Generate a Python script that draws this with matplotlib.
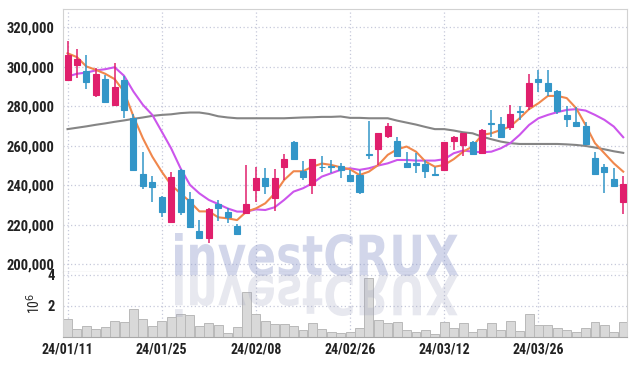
import numpy as np
import matplotlib
matplotlib.use('Agg')
import matplotlib.pyplot as plt
from matplotlib.textpath import TextPath
from matplotlib.patches import PathPatch
from matplotlib.font_manager import FontProperties
from matplotlib.transforms import Affine2D
from matplotlib.ticker import FuncFormatter

# Trading days shown on the chart
dates = ['24/01/11', '24/01/12', '24/01/15', '24/01/16', '24/01/17', '24/01/18', '24/01/19',
         '24/01/22', '24/01/23', '24/01/24', '24/01/25', '24/01/26', '24/01/29', '24/01/30',
         '24/01/31', '24/02/01', '24/02/02', '24/02/05', '24/02/06', '24/02/07', '24/02/08',
         '24/02/13', '24/02/14', '24/02/15', '24/02/16', '24/02/19', '24/02/20', '24/02/21',
         '24/02/22', '24/02/23', '24/02/26', '24/02/27', '24/02/28', '24/02/29', '24/03/04',
         '24/03/05', '24/03/06', '24/03/07', '24/03/08', '24/03/11', '24/03/12', '24/03/13',
         '24/03/14', '24/03/15', '24/03/18', '24/03/19', '24/03/20', '24/03/21', '24/03/22',
         '24/03/25', '24/03/26', '24/03/27', '24/03/28', '24/03/29', '24/04/01', '24/04/02',
         '24/04/03', '24/04/04', '24/04/05', '24/04/08']

# OHLC prices
opens = [293000, 301000, 298000, 285500, 294000, 280500, 293000, 274000, 245500, 241500,
         234000, 221500, 247500, 233000, 217000, 213500, 230500, 226500, 219500, 226000,
         237500, 243500, 233500, 249500, 262000, 247000, 240000, 249500, 250000, 250000,
         245000, 245000, 256000, 258500, 265000, 262500, 251500, 251500, 251000, 245500,
         247500, 262500, 260500, 262000, 256500, 271500, 271000, 269500, 277500, 280000,
         294000, 291500, 287500, 275500, 272000, 270000, 254000, 249000, 243000, 231500]
highs = [313000, 309000, 306000, 299500, 296000, 302000, 295500, 276000, 257000, 244500,
         234500, 246500, 248000, 236500, 222500, 228500, 232500, 228500, 220500, 250500,
         249000, 248500, 248000, 256000, 262500, 252500, 253500, 255000, 253000, 251500,
         247500, 247500, 272500, 266500, 271500, 264500, 257000, 256500, 253000, 249500,
         262000, 265000, 266500, 262500, 268500, 278000, 274500, 280500, 280000, 296500,
         298500, 298500, 288000, 280000, 279500, 272000, 257000, 251000, 248500, 244500]
lows = [292500, 294500, 288500, 284500, 282000, 280000, 274000, 247500, 238000, 231500,
        224000, 221000, 225000, 218500, 213500, 211000, 222000, 221000, 215500, 225500,
        231500, 235500, 227000, 242500, 253000, 242500, 235500, 246500, 246000, 243500,
        241500, 235500, 253500, 250500, 264000, 255000, 249000, 246000, 243500, 244500,
        247000, 258000, 255000, 256000, 256500, 264500, 264500, 268000, 273000, 278000,
        287000, 285000, 276000, 269500, 270000, 260500, 245000, 236000, 239000, 225500]
closes = [306000, 304000, 292000, 296500, 282000, 289500, 278000, 247500, 239500, 239000,
          226500, 244000, 226500, 219000, 213500, 228000, 228500, 224000, 215500, 230500,
          243500, 239500, 243500, 253500, 253500, 244000, 253500, 249000, 249500, 247500,
          242000, 236500, 255500, 266500, 270000, 255000, 249500, 250500, 247000, 245000,
          262000, 264500, 266500, 256000, 268000, 271000, 264500, 276000, 277000, 291500,
          292000, 287500, 277500, 273500, 270000, 261000, 245500, 246500, 239500, 240500]

# Moving averages as drawn
ma_short = [306800, 304800, 300100, 298400, 296400, 293700, 287400, 274800, 263800, 254500,
            246900, 240200, 235900, 231700, 226800, 226800, 223800, 223300, 222400, 226700,
            228300, 230900, 235900, 242700, 247100, 247100, 249400, 251000, 250300, 249100,
            248100, 245200, 246900, 250300, 255400, 258200, 259600, 257000, 252000, 249400,
            250300, 253200, 257000, 259600, 265500, 266300, 268000, 269700, 273900, 278500,
            281500, 285200, 285200, 284100, 279000, 270500, 261300, 256200, 251100, 246900]
ma_mid = [295000, 296400, 297000, 298100, 298700, 299700, 295400, 287400, 280700, 275600,
          267200, 258700, 248600, 240200, 235900, 232600, 230500, 228300, 226700, 226700,
          227800, 227500, 228900, 232600, 236800, 238500, 241000, 244400, 246100, 247800,
          248600, 247800, 248600, 250000, 251100, 252800, 252800, 252500, 252500, 252500,
          253200, 256200, 257600, 257000, 256700, 257000, 258700, 261300, 265500, 270500,
          273900, 275600, 277000, 278100, 278500, 277800, 275600, 273100, 269700, 264300]
ma_long = [268400, 269100, 269800, 270600, 271300, 272100, 272800, 273600, 274300, 275100,
           275600, 275900, 276500, 276800, 276800, 276100, 274900, 274300, 273900, 273900,
           273900, 273900, 273900, 273900, 274100, 274300, 274400, 274600, 274600, 274800,
           274100, 274100, 273900, 273900, 273900, 272700, 271700, 270700, 269500, 268400,
           268400, 267700, 266800, 266300, 264600, 263300, 262100, 261300, 260900, 260900,
           260900, 260900, 260900, 260700, 260400, 259900, 259100, 258200, 257200, 256400]

# Volume in millions of shares
volume = [1.20, 0.55, 0.74, 0.55, 0.67, 1.06, 1.00, 1.82, 1.19, 0.74,
          1.05, 1.30, 1.50, 1.44, 0.75, 0.92, 0.80, 0.30, 0.66, 2.90,
          1.48, 1.04, 0.87, 0.87, 0.70, 0.48, 0.93, 0.54, 0.33, 0.28,
          0.35, 0.61, 3.80, 1.09, 0.93, 1.00, 0.48, 0.37, 0.48, 0.22,
          0.99, 0.62, 0.92, 0.35, 0.55, 0.93, 0.48, 1.05, 0.41, 1.48,
          0.76, 0.81, 0.62, 0.48, 0.35, 0.62, 0.99, 0.81, 0.35, 0.99]
volume = [v * 1e6 for v in volume]

tick_idx = [0, 10, 20, 30, 40, 50]

up_color = '#e01f6c'
down_color = '#3396c8'
grid_color = '#c6c9da'
text_color = '#222222'

plt.rcParams['font.family'] = ['Roboto Condensed', 'Archivo Narrow', 'DejaVu Sans']

W, H = 637, 366
fig = plt.figure(figsize=(W / 100, H / 100), dpi=100)
ax = fig.add_axes([63 / W, 1 - 272.3 / H, 564 / W, 263 / H])
axv = fig.add_axes([63 / W, 1 - 337.3 / H, 564 / W, 65 / H], sharex=ax)

x = np.arange(len(dates))
o = np.array(opens)
c = np.array(closes)
colors = [up_color if cc >= oo else down_color for oo, cc in zip(o, c)]

# Wicks and bodies
ax.vlines(x, lows, highs, colors=colors, linewidth=1.1, zorder=3)
body_low = np.minimum(o, c)
body_h = np.maximum(np.abs(c - o), 400)
ax.bar(x, body_h, bottom=body_low, width=0.64, color=colors, edgecolor=colors,
       linewidth=0.8, zorder=4)

# Moving averages
ax.plot(x, ma_long, color='#858585', linewidth=1.5, zorder=2)
ax.plot(x, ma_mid, color='#cc55ec', linewidth=1.5, zorder=2)
ax.plot(x, ma_short, color='#f0874c', linewidth=1.5, zorder=2)

ax.set_xlim(-0.48, 59.4)
ax.set_ylim(196000, 329000)
ax.set_yticks(np.arange(200000, 320001, 20000))
ax.yaxis.set_major_formatter(FuncFormatter(lambda v, p: f'{int(v):,}'))
ax.set_xticks(tick_idx)
ax.tick_params(axis='x', labelbottom=False, length=0)
ax.tick_params(axis='y', length=0, pad=6, labelsize=10.5, labelcolor=text_color)
for lab in ax.get_yticklabels():
    lab.set_fontweight('semibold')
ax.grid(True, linestyle=(0, (1, 2)), color=grid_color, linewidth=0.9)
for s in ['top', 'right', 'left']:
    ax.spines[s].set_color('#d2d2d2')
ax.spines['bottom'].set_color('#9a9a9a')

# Volume panel
axv.bar(x, volume, width=0.95, color='#d9d9d9', edgecolor='#b9b9b9', linewidth=0.7, zorder=2)
axv.set_ylim(0, 4.15e6)
axv.set_yticks([2e6, 4e6])
axv.set_yticklabels(['2', '4'])
axv.set_xticks(tick_idx)
axv.set_xticklabels([dates[i] for i in tick_idx])
axv.tick_params(axis='y', length=0, pad=6, labelsize=10.5, labelcolor=text_color)
axv.tick_params(axis='x', length=0, pad=4, labelsize=10, labelcolor=text_color)
for lab in axv.get_yticklabels() + axv.get_xticklabels():
    lab.set_fontweight('semibold')
axv.grid(True, linestyle=(0, (1, 2)), color=grid_color, linewidth=0.9)
axv.spines['top'].set_visible(False)
for s in ['right', 'left']:
    axv.spines[s].set_color('#d2d2d2')
axv.spines['bottom'].set_color('#a8a8a8')
fig.text(34 / W, 1 - 303 / H, r'10$^{6}$', rotation=90, ha='center', va='center',
         fontsize=10, color=text_color)

# Watermark with its reflection
fp = FontProperties(family='DejaVu Sans', weight='bold')
tp = TextPath((0, 0), 'investCRUX', size=1, prop=fp)
bb = tp.get_extents()
sx = 283 / bb.width
sy = 42 / bb.ymax
x0 = 175 - bb.xmin * sx
base = H - 275
to_fig = Affine2D().scale(1 / W, 1 / H) + fig.transFigure
fig.add_artist(PathPatch(tp, facecolor='#8f9acb', edgecolor='none', alpha=0.4,
                         transform=Affine2D().scale(sx, sy).translate(x0, base) + to_fig))
fig.add_artist(PathPatch(tp, facecolor='#a0a4c0', edgecolor='none', alpha=0.25,
                         transform=Affine2D().scale(sx, -sy).translate(x0, base) + to_fig))

fig.savefig('out.png', dpi=100)
